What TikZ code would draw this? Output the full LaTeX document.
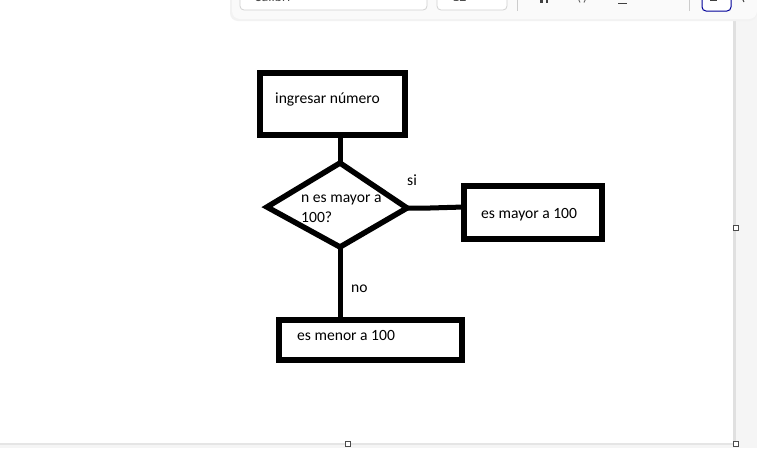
\documentclass[tikz,border=0pt]{standalone}
\usepackage{fontspec}
\setmainfont{Carlito}
\begin{document}
\begin{tikzpicture}[x=1pt,y=-1pt,
  shape line/.style={line width=5.5pt,line join=miter,line cap=rect},
  link/.style={line width=5pt},
  lbl/.style={inner sep=0pt,anchor=base west,font=\fontsize{15.6}{18}\selectfont},
  lbltwo/.style={inner sep=0pt,anchor=north west,align=left,font=\fontsize{15.6}{19.5}\selectfont},
  handle/.style={draw=black!70,fill=white,line width=1pt,minimum size=5pt,inner sep=0pt},
  field/.style={draw=black!18,fill=white,rounded corners=4pt,line width=0.8pt},
  toolmark/.style={fill=black!75}]
\useasboundingbox (0,0) rectangle (757,448);
% canvas area
\fill[white] (0,0) rectangle (757,448);
\fill[black!4] (734,0) rectangle (757,448);
\fill[black!4] (0,443) rectangle (757,448);
\fill[black!12] (733,0) rectangle (736,446);
\fill[black!10] (0,443) rectangle (736,445);
% formatting toolbar
\begin{scope}
\clip (0,0) rectangle (757,448);
\fill[black!5,rounded corners=8pt] (230,-20) rectangle (757,21);
\fill[black!2,rounded corners=8pt] (232,-20) rectangle (757,19);
\draw[field] (240,-20) rectangle (427,10);
\draw[field] (437,-20) rectangle (507,10);
\draw[black!20,line width=0.8pt] (517,-5) -- (517,11);
\draw[black!20,line width=0.8pt] (689,-5) -- (689,11);
\draw[draw=blue!60!black,fill=white,rounded corners=4pt,line width=1pt] (702,-20) rectangle (731,11);
\node[inner sep=0pt,anchor=base west,font=\fontsize{14}{16}\selectfont,text=black!70] (fontname) at (254,1) {Calibri};
\node[inner sep=0pt,anchor=base west,font=\fontsize{14}{16}\selectfont,text=black!70] (fontsize) at (452,1) {12};
% lower ends of the style buttons
\fill[toolmark] (540,-2) rectangle (542.5,3);
\fill[toolmark] (545.5,-2) rectangle (548,3);
\draw[black!60,line width=0.9pt] (578,-2) -- (580,2.5) (586,-2) -- (584,2.5);
\draw[black!75,line width=1pt] (618,3) -- (627,3);
\draw[black!70,line width=1pt] (658,-3) arc[start angle=180,end angle=360,radius=4.5];
\draw[black!75,line width=1pt] (710,0.5) -- (717,0.5);
\draw[black!75,line width=1pt] (742,-2) -- (744,2);
\end{scope}
% flowchart
\draw[shape line] (260,73) rectangle (405,135);
\node[lbl] (t1) at (275,103) {ingresar número};
\coordinate (dtop) at (340,163);
\coordinate (dleft) at (267,207);
\coordinate (dright) at (407,208);
\coordinate (dbot) at (340,247);
\draw[shape line,line cap=butt] (dtop) -- (dright) -- (dbot) -- (dleft) -- cycle;
\node[lbltwo] (t2) at (301,195) {n es mayor a\\100?};
\draw[shape line] (464,186) rectangle (602,239);
\node[lbl] (t3) at (481,218) {es mayor a 100};
\draw[shape line] (279,320) rectangle (462,360);
\node[lbl] (t4) at (297,340) {es menor a 100};
\coordinate (boxonebot) at (340,135);
\coordinate (boxtwoleft) at (464,207);
\coordinate (boxthreetop) at (340,320);
\draw[link] (boxonebot) -- (dtop);
\draw[link] (dright) -- (430,208) -- (boxtwoleft);
\draw[link] (dbot) -- (boxthreetop);
\node[lbl] (si) at (407,185) {si};
\node[lbl] (no) at (351,292) {no};
% selection handles
\node[handle] (h1) at (736,228) {};
\node[handle] (h2) at (348,444) {};
\node[handle] (h3) at (736,444) {};
\end{tikzpicture}
\end{document}
